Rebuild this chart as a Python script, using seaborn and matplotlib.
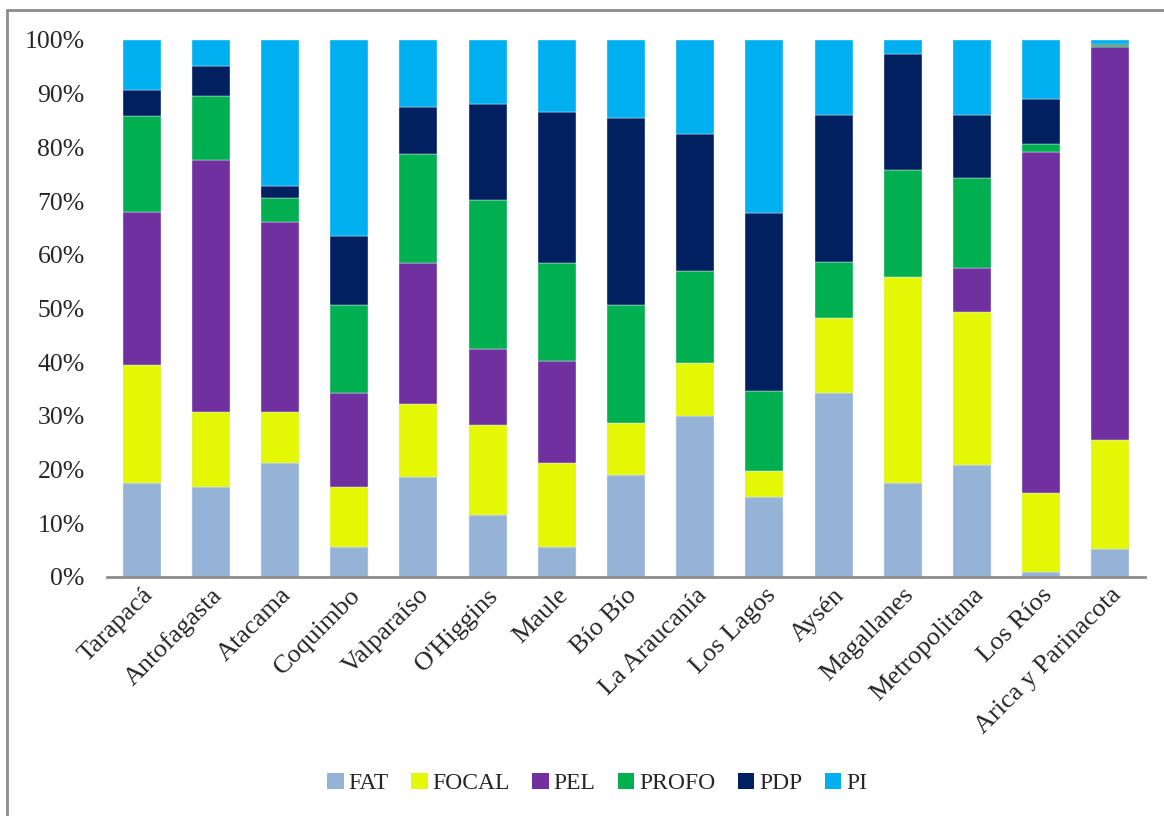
import matplotlib
matplotlib.use("Agg")
import matplotlib.pyplot as plt
import seaborn as sns
import numpy as np
from matplotlib.patches import Patch
from matplotlib.lines import Line2D

regions = ["Tarapacá", "Antofagasta", "Atacama", "Coquimbo", "Valparaíso",
           "O'Higgins", "Maule", "Bío Bío", "La Araucanía", "Los Lagos",
           "Aysén", "Magallanes", "Metropolitana", "Los Ríos", "Arica y Parinacota"]

# Share of each program per region (%)
fat = [17.5, 16.7, 21.2, 5.6, 18.6, 11.5, 5.6, 18.9, 30.0, 14.9, 34.2, 17.5, 20.8, 0.9, 5.3]
focal = [21.9, 14.1, 9.6, 11.2, 13.7, 16.8, 15.6, 9.7, 9.8, 4.9, 14.1, 38.3, 28.6, 14.7, 20.3]
pel = [28.6, 46.9, 35.3, 17.4, 26.1, 14.1, 19.0, 0.0, 0.0, 0.0, 0.0, 0.0, 8.2, 63.6, 73.1]
profo = [17.9, 11.9, 4.5, 16.4, 20.4, 27.8, 18.2, 22.0, 17.1, 14.8, 10.4, 20.0, 16.7, 1.4, 0.4]
pdp = [4.8, 5.5, 2.2, 12.9, 8.8, 17.8, 28.1, 34.8, 25.5, 33.1, 27.4, 21.5, 11.8, 8.5, 0.1]
pi = [9.3, 4.9, 27.2, 36.5, 12.4, 12.0, 13.5, 14.6, 17.6, 32.3, 13.9, 2.7, 13.9, 10.9, 0.8]

series = ["FAT", "FOCAL", "PEL", "PROFO", "PDP", "PI"]
values = [fat, focal, pel, profo, pdp, pi]
colors = ["#95b3d7", "#e4f704", "#7030a0", "#00b050", "#002060", "#00b0f0"]

sns.set_theme(style="white")
plt.rcParams["font.family"] = ["Liberation Serif", "DejaVu Serif"]

fig = plt.figure(figsize=(11.64, 8.16), dpi=100)
ax = fig.add_axes([0.0919, 0.2929, 0.8918, 0.6581])

bottom = np.zeros(len(regions))
for name, vals, col in zip(series, values, colors):
    v = np.array(vals, dtype=float)
    sns.barplot(x=regions, y=v, bottom=bottom, color=col, width=0.55,
                ax=ax, edgecolor="#e8eef6", linewidth=0.3, saturation=1)
    bottom += v

ax.set_xlim(-0.5, len(regions) - 0.5)
ax.set_ylim(0, 100)
ax.set_yticks(np.arange(0, 101, 10))
ax.set_yticklabels([f"{t}%" for t in range(0, 101, 10)], fontsize=18.5)
ax.tick_params(axis="y", length=0, pad=16)
ax.tick_params(axis="x", length=0, pad=5)
ax.set_xticks(range(len(regions)))
ax.set_xticklabels(regions, rotation=45, ha="right", rotation_mode="anchor",
                   fontsize=19)
for s in ["top", "right", "left"]:
    ax.spines[s].set_visible(False)
ax.spines["bottom"].set_color("#8c8c8c")
ax.spines["bottom"].set_linewidth(2)
ax.grid(False)

handles = [Patch(facecolor=c, edgecolor="none") for c in colors]
fig.legend(handles, series, loc="center", bbox_to_anchor=(0.513, 0.040),
           ncol=6, frameon=False, fontsize=17, handlelength=0.7,
           handleheight=0.7, handletextpad=0.2, columnspacing=0.95)

# Chart frame
fig.add_artist(Line2D([7 / 1164, 1.0], [1 - 10 / 816] * 2,
                      transform=fig.transFigure, color="#8c8c8c", lw=2))
fig.add_artist(Line2D([7 / 1164] * 2, [0.0, 1 - 10 / 816],
                      transform=fig.transFigure, color="#8c8c8c", lw=2))

fig.savefig("out.png", dpi=100, facecolor="white")
